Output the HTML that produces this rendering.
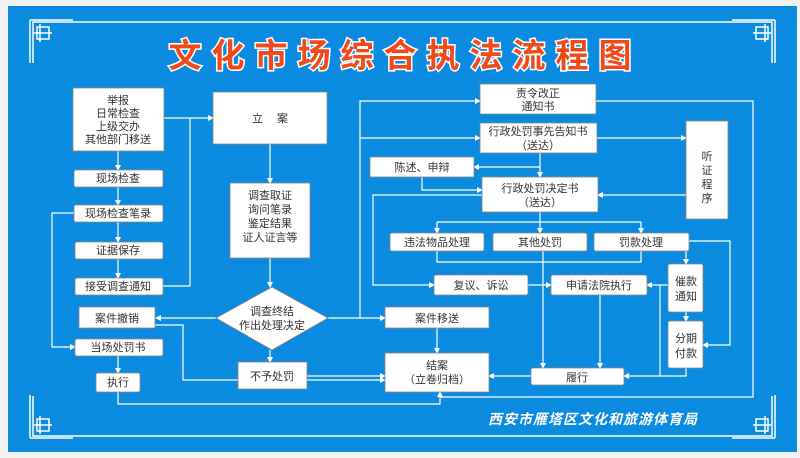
<!DOCTYPE html>
<html><head><meta charset="utf-8"><style>
body{margin:0;width:800px;height:458px;background:#f2f2f2;overflow:hidden}
svg{display:block}
text{font-family:"Liberation Sans","Noto Sans CJK SC",sans-serif;font-size:11px;fill:#333;text-anchor:middle}
</style></head><body>
<svg width="800" height="458" viewBox="0 0 800 458">
<defs><marker id="a" markerWidth="6" markerHeight="6" refX="5" refY="3" orient="auto" markerUnits="userSpaceOnUse"><path d="M0,0L6,3L0,6z" fill="#fff"/></marker></defs>
<rect x="8" y="6" width="789" height="446" fill="#0a8be0"/>
<g stroke="#fff" fill="none" stroke-width="1.5">
<path d="M33,63V22H772V63M33,396V436H772V396"/>
<path d="M30,20h43M30,20v43M37,27h12v12h-12zM40,24v18M34,33h18"/>
<path d="M775,20h-43M775,20v43M768,27h-12v12h12zM765,24v18M771,33h-18"/>
<path d="M30,438h43M30,438v-43M37,431h12v-12h-12zM40,434v-18M34,425h18"/>
<path d="M775,438h-43M775,438v-43M768,431h-12v-12h12zM765,434v-18M771,425h-18"/>
</g>
<text x="405" y="67" style="font-size:33px;font-weight:bold;fill:#f04a1a;stroke:#fff;stroke-width:3;paint-order:stroke;letter-spacing:10px">文化市场综合执法流程图</text>
<g stroke="#fff" fill="none" stroke-width="1.2">
<path d="M164,118H213" marker-end="url(#a)"/>
<path d="M190,118V286H163"/>
<path d="M118,151V170" marker-end="url(#a)"/><path d="M118,187V205" marker-end="url(#a)"/><path d="M118,222V242" marker-end="url(#a)"/><path d="M118,259V278" marker-end="url(#a)"/>
<path d="M74,213H52V347H75" marker-end="url(#a)"/>
<path d="M118,356V373" marker-end="url(#a)"/>
<path d="M118,392V404H440V392" marker-end="url(#a)"/>
<path d="M270,144V183" marker-end="url(#a)"/>
<path d="M270,258V287" marker-end="url(#a)"/>
<path d="M270,350V362" marker-end="url(#a)"/>
<path d="M216,318H156" marker-end="url(#a)"/>
<path d="M328,318H385" marker-end="url(#a)"/>
<path d="M360,318V101H480" marker-end="url(#a)"/>
<path d="M360,138H480" marker-end="url(#a)"/>
<path d="M155,325H183V380H385" marker-end="url(#a)"/>
<path d="M307,376H385" marker-end="url(#a)"/>
<path d="M437,328V353" marker-end="url(#a)"/>
<path d="M597,138H686" marker-end="url(#a)"/>
<path d="M540,153V177" marker-end="url(#a)"/>
<path d="M540,167H474" marker-end="url(#a)"/>
<path d="M422,177V190H482" marker-end="url(#a)"/>
<path d="M686,195H598" marker-end="url(#a)"/>
<path d="M482,195H373V285H434" marker-end="url(#a)"/>
<path d="M540,212V222"/><path d="M437,222H641"/>
<path d="M437,222V233" marker-end="url(#a)"/><path d="M540,222V233" marker-end="url(#a)"/><path d="M641,222V233" marker-end="url(#a)"/>
<path d="M437,251V262H641V251"/>
<path d="M543,251V368" marker-end="url(#a)"/>
<path d="M528,285H551" marker-end="url(#a)"/>
<path d="M600,295V368" marker-end="url(#a)"/>
<path d="M686,251V264" marker-end="url(#a)"/>
<path d="M686,312V321" marker-end="url(#a)"/>
<path d="M686,368V376H624" marker-end="url(#a)"/>
<path d="M668,285H647" marker-end="url(#a)"/>
<path d="M660,285V376"/>
<path d="M689,241H730V345H703" marker-end="url(#a)"/>
<path d="M531,376H489" marker-end="url(#a)"/>
<path d="M596,101H753V397H440"/>
</g>
<g fill="#fff" stroke="#888" stroke-width="0.8">
<rect x="73" y="88" width="91" height="63"/>
<rect x="213" y="92" width="114" height="52"/>
<rect x="74" y="170" width="89" height="17" rx="2"/>
<rect x="74" y="205" width="89" height="17" rx="2"/>
<rect x="75" y="242" width="88" height="17" rx="2"/>
<rect x="75" y="278" width="88" height="17" rx="2"/>
<rect x="79" y="307" width="76" height="21"/>
<rect x="75" y="339" width="88" height="17" rx="2"/>
<rect x="96" y="373" width="44" height="19" rx="2"/>
<rect x="230" y="183" width="80" height="75"/>
<path d="M272,287L328,318L272,350L216,318z"/>
<rect x="238" y="362" width="69" height="27"/>
<rect x="385" y="307" width="104" height="21"/>
<rect x="385" y="353" width="104" height="39"/>
<rect x="480" y="84" width="116" height="30"/>
<rect x="480" y="123" width="117" height="30"/>
<rect x="370" y="157" width="104" height="20"/>
<rect x="482" y="177" width="116" height="35"/>
<rect x="686" y="121" width="42" height="98"/>
<rect x="390" y="233" width="94" height="18" rx="2"/>
<rect x="493" y="233" width="94" height="18" rx="2"/>
<rect x="594" y="233" width="95" height="18" rx="2"/>
<rect x="434" y="275" width="94" height="20" rx="2"/>
<rect x="551" y="275" width="96" height="20" rx="2"/>
<rect x="668" y="264" width="35" height="48" rx="2"/>
<rect x="668" y="321" width="35" height="47" rx="2"/>
<rect x="531" y="368" width="93" height="17" rx="2"/>
</g>
<text x="118" y="104">举报</text><text x="118" y="117">日常检查</text><text x="118" y="130">上级交办</text><text x="118" y="143">其他部门移送</text>
<text x="270" y="122">立　 案</text>
<text x="118" y="182">现场检查</text><text x="118" y="217">现场检查笔录</text><text x="118" y="254">证据保存</text><text x="118" y="290">接受调查通知</text>
<text x="117" y="322">案件撤销</text><text x="118" y="351">当场处罚书</text><text x="118" y="386">执行</text>
<text x="270" y="199">调查取证</text><text x="270" y="213">询问笔录</text><text x="270" y="227">鉴定结果</text><text x="270" y="241">证人证言等</text>
<text x="272" y="315">调查终结</text><text x="272" y="329">作出处理决定</text>
<text x="272" y="380">不予处罚</text><text x="437" y="322">案件移送</text>
<text x="437" y="369">结案</text><text x="437" y="383">（立卷归档）</text>
<text x="538" y="97">责令改正</text><text x="538" y="110">通知书</text>
<text x="538" y="135">行政处罚事先告知书</text><text x="538" y="149">（送达）</text>
<text x="422" y="171">陈述、申辩</text>
<text x="540" y="192">行政处罚决定书</text><text x="540" y="206">（送达）</text>
<text x="707" y="160">听</text><text x="707" y="174">证</text><text x="707" y="188">程</text><text x="707" y="202">序</text>
<text x="437" y="246">违法物品处理</text><text x="540" y="246">其他处罚</text><text x="641" y="246">罚款处理</text>
<text x="481" y="289">复议、诉讼</text><text x="599" y="289">申请法院执行</text>
<text x="686" y="285">催款</text><text x="686" y="300">通知</text><text x="686" y="342">分期</text><text x="686" y="357">付款</text>
<text x="577" y="381">履行</text>
<text x="593" y="424" style="fill:#fff;font-size:14px;font-weight:bold;font-style:italic;letter-spacing:1px">西安市雁塔区文化和旅游体育局</text>
</svg>
</body></html>
